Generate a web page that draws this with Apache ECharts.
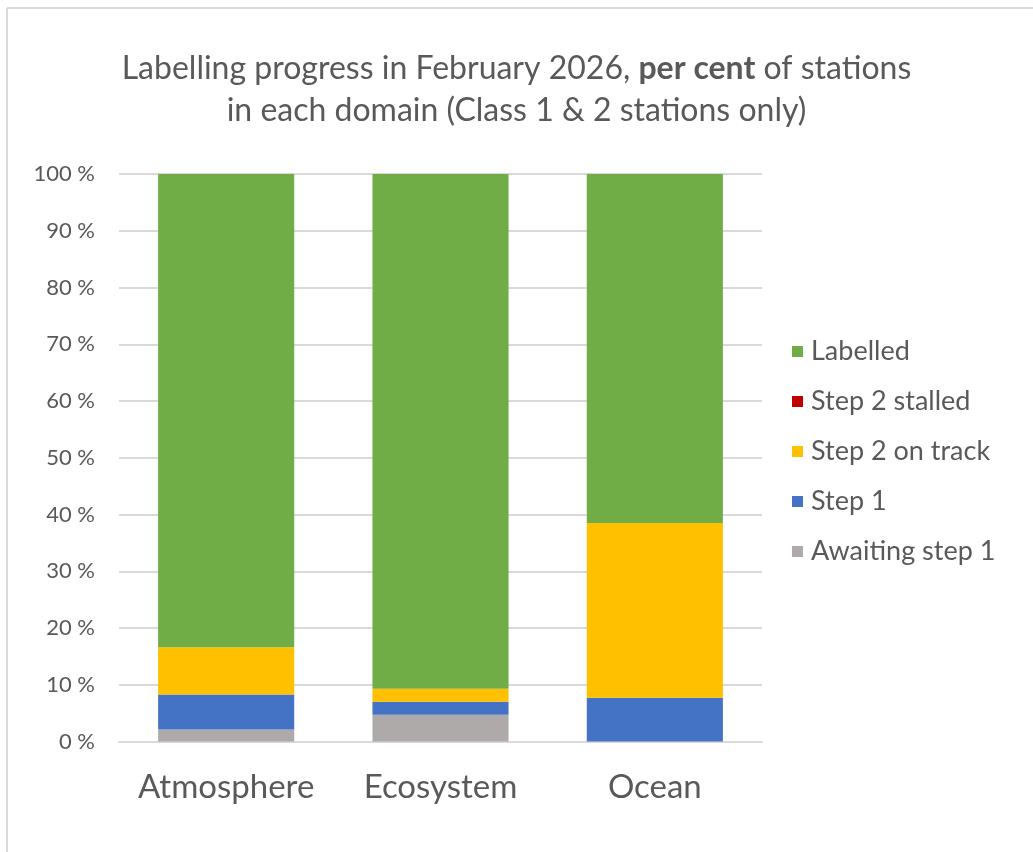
<!DOCTYPE html>
<html>
<head>
<meta charset="utf-8">
<script src="https://cdn.jsdelivr.net/npm/echarts@6/dist/echarts.min.js"></script>
<style>
  html, body { margin: 0; padding: 0; background: #ffffff; }
  #chart { width: 1033px; height: 852px; }
</style>
</head>
<body>
<div id="chart"></div>
<script>
// Domains shown on the x axis
const categories = ['Atmosphere', 'Ecosystem', 'Ocean'];

// Share of stations (per cent) in each labelling stage, per domain
const awaitingStep1 = [2.1, 4.7, 0];
const step1 = [6.2, 2.3, 7.7];
const step2OnTrack = [8.3, 2.3, 30.8];
const step2Stalled = [0, 0, 0];
const labelled = [83.4, 90.7, 61.5];

// Y-axis ticks
const yTicks = [0, 10, 20, 30, 40, 50, 60, 70, 80, 90, 100];

const FONT = 'Lato, "Open Sans", sans-serif';
const TEXT = '#595959';

const seriesDefs = [
  { name: 'Awaiting step 1', data: awaitingStep1, color: '#AEAAAA' },
  { name: 'Step 1', data: step1, color: '#4472C4' },
  { name: 'Step 2 on track', data: step2OnTrack, color: '#FFC000' },
  { name: 'Step 2 stalled', data: step2Stalled, color: '#C00000' },
  { name: 'Labelled', data: labelled, color: '#70AD47' }
];

const chart = echarts.init(document.getElementById('chart'));
chart.setOption({
  animation: false,
  backgroundColor: '#ffffff',
  title: {
    text: 'Labelling progress in February 2026, {b|per cent} of stations\nin each domain (Class 1 & 2 stations only)',
    left: 'center',
    top: 43,
    textStyle: {
      fontFamily: FONT,
      fontSize: 32,
      fontWeight: 'normal',
      color: TEXT,
      lineHeight: 42,
      rich: {
        b: { fontFamily: FONT, fontSize: 32, fontWeight: 'bold', color: TEXT, lineHeight: 42 }
      }
    }
  },
  legend: {
    orient: 'vertical',
    left: 787,
    top: 333,
    itemWidth: 11,
    itemHeight: 11,
    itemGap: 23,
    icon: 'rect',
    textStyle: { fontFamily: FONT, fontSize: 27, color: TEXT, padding: [0, 0, 0, 3] },
    data: ['Labelled', 'Step 2 stalled', 'Step 2 on track', 'Step 1', 'Awaiting step 1']
  },
  grid: { left: 119, right: 271, top: 174, bottom: 110.5 },
  xAxis: {
    type: 'category',
    data: categories,
    axisLine: { lineStyle: { color: '#D9D9D9', width: 2 } },
    axisTick: { show: false },
    axisLabel: { fontFamily: FONT, fontSize: 33, color: TEXT, margin: 29, interval: 0, hideOverlap: false }
  },
  yAxis: {
    type: 'value',
    min: yTicks[0],
    max: yTicks[yTicks.length - 1],
    interval: 10,
    axisLine: { show: false },
    axisTick: { show: false },
    splitLine: { lineStyle: { color: '#D9D9D9', width: 2 } },
    axisLabel: { fontFamily: FONT, fontSize: 22, color: TEXT, margin: 24, formatter: v => v + ' %' }
  },
  series: seriesDefs.map(s => ({
    name: s.name,
    type: 'bar',
    stack: 'total',
    barWidth: '63.5%',
    data: s.data,
    itemStyle: { color: s.color },
    emphasis: { disabled: true }
  })),
  graphic: [
    { type: 'line', shape: { x1: 7, y1: 8, x2: 1033, y2: 8 }, style: { stroke: '#D9D9D9', lineWidth: 2 } },
    { type: 'line', shape: { x1: 7, y1: 8, x2: 7, y2: 852 }, style: { stroke: '#D9D9D9', lineWidth: 2 } }
  ]
});
</script>
</body>
</html>
